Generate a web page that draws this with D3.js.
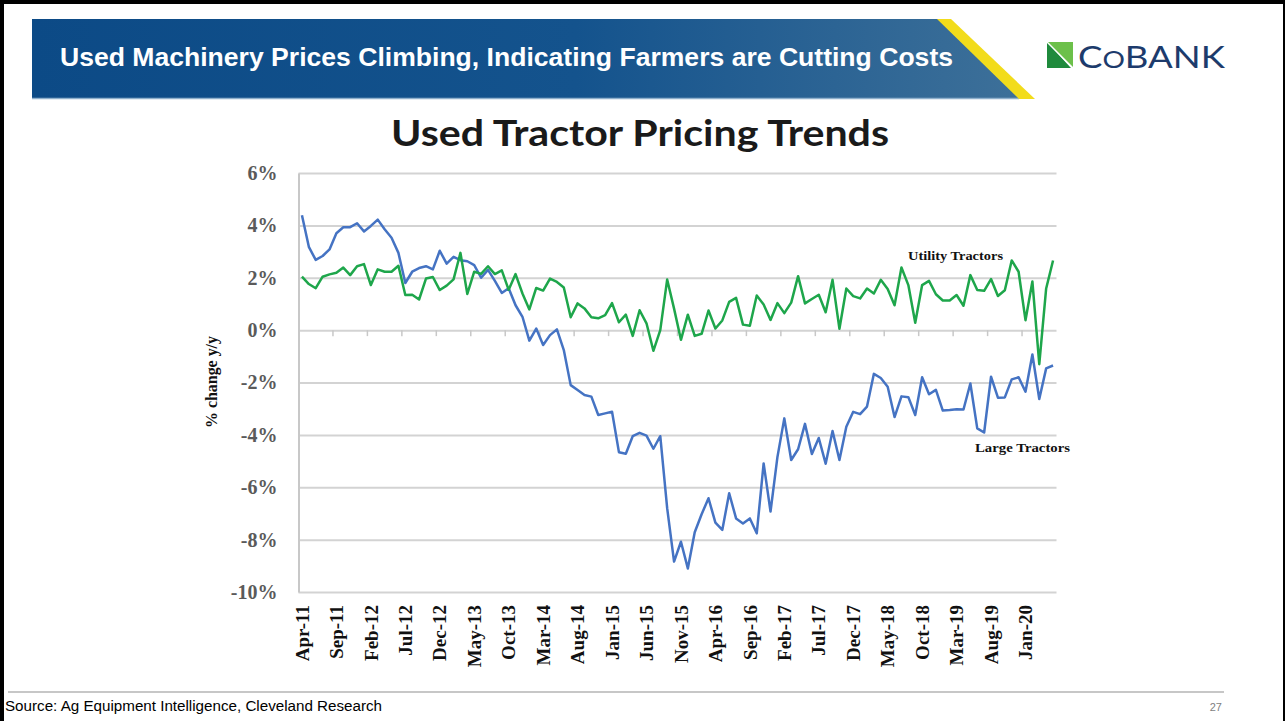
<!DOCTYPE html>
<html>
<head>
<meta charset="utf-8">
<script src="https://cdn.jsdelivr.net/npm/d3@7"></script>
<style>
  body { margin: 0; background: #fff; }
  svg { display: block; }
</style>
</head>
<body>
<script>
// monthly categories Apr-11 .. May-20
var months = d3.timeMonth.range(new Date(2011, 3, 1), new Date(2020, 5, 1)).map(d3.timeFormat("%b-%y"));

// % change y/y
var largeTractors = [
  4.39, 3.18, 2.68, 2.83, 3.08, 3.70, 3.93, 3.93, 4.08, 3.77,
  3.98, 4.22, 3.85, 3.53, 2.95, 1.80, 2.23, 2.37, 2.44, 2.32,
  3.03, 2.54, 2.80, 2.67, 2.63, 2.48, 2.00, 2.30, 1.88, 1.42,
  1.60, 0.95, 0.51, -0.40, 0.06, -0.57, -0.19, 0.03, -0.76, -2.10,
  -2.29, -2.48, -2.54, -3.24, -3.18, -3.12, -4.66, -4.72, -4.05, -3.92,
  -4.03, -4.53, -4.05, -6.80, -8.84, -8.08, -9.10, -7.72, -7.03, -6.42,
  -7.35, -7.63, -6.23, -7.19, -7.38, -7.19, -7.76, -5.09, -6.93, -4.85,
  -3.37, -4.96, -4.55, -3.58, -4.73, -4.12, -5.10, -3.85, -4.96, -3.69,
  -3.12, -3.21, -2.92, -1.67, -1.83, -2.16, -3.32, -2.53, -2.56, -3.24,
  -1.80, -2.45, -2.28, -3.07, -3.05, -3.02, -3.03, -2.04, -3.75, -3.91,
  -1.78, -2.58, -2.57, -1.88, -1.80, -2.35, -0.93, -2.63, -1.46, -1.35
];
var utilityTractors = [
  2.04, 1.76, 1.60, 2.04, 2.13, 2.19, 2.39, 2.10, 2.44, 2.52,
  1.72, 2.32, 2.23, 2.23, 2.46, 1.34, 1.35, 1.17, 1.97, 2.03,
  1.53, 1.70, 1.94, 2.95, 1.38, 2.23, 2.15, 2.44, 2.14, 2.28,
  1.54, 2.14, 1.40, 0.79, 1.61, 1.51, 1.97, 1.84, 1.63, 0.49,
  1.02, 0.83, 0.49, 0.45, 0.57, 1.03, 0.30, 0.59, -0.22, 0.76,
  0.26, -0.79, 0.00, 1.93, 0.82, -0.37, 0.59, -0.22, -0.14, 0.75,
  0.06, 0.37, 1.08, 1.23, 0.21, 0.17, 1.32, 0.98, 0.39, 1.03,
  0.65, 1.05, 2.06, 1.02, 1.19, 1.35, 0.68, 1.92, 0.05, 1.59,
  1.30, 1.21, 1.59, 1.40, 1.92, 1.57, 0.95, 2.39, 1.72, 0.28,
  1.72, 1.88, 1.37, 1.13, 1.13, 1.34, 0.93, 2.10, 1.53, 1.50,
  1.95, 1.30, 1.52, 2.66, 2.23, 0.38, 1.86, -1.30, 1.59, 2.66
];

var tickLabels = ["Apr-11", "Sep-11", "Feb-12", "Jul-12", "Dec-12", "May-13", "Oct-13", "Mar-14",
  "Aug-14", "Jan-15", "Jun-15", "Nov-15", "Apr-16", "Sep-16", "Feb-17", "Jul-17", "Dec-17",
  "May-18", "Oct-18", "Mar-19", "Aug-19", "Jan-20"];
var yTicks = [6, 4, 2, 0, -2, -4, -6, -8, -10];

var W = 1285, H = 721;
var svg = d3.select("body").append("svg").attr("width", W).attr("height", H);

// frame
svg.append("rect").attr("x", 0).attr("y", 0).attr("width", W).attr("height", 4).attr("fill", "#000");
svg.append("rect").attr("x", 0).attr("y", 0).attr("width", 4).attr("height", H).attr("fill", "#000");
svg.append("rect").attr("x", W - 2).attr("y", 0).attr("width", 2).attr("height", H).attr("fill", "#000");

// header banner
var defs = svg.append("defs");
var grad = defs.append("linearGradient").attr("id", "bannerGrad");
grad.append("stop").attr("offset", "0%").attr("stop-color", "#0c4a86");
grad.append("stop").attr("offset", "55%").attr("stop-color", "#14538d");
grad.append("stop").attr("offset", "100%").attr("stop-color", "#3d7099");

svg.append("path")
  .attr("d", "M32,19 L938,19 L1020,99 L32,99 Z")
  .attr("fill", "url(#bannerGrad)");
svg.append("line")
  .attr("x1", 32).attr("x2", 1019).attr("y1", 98.5).attr("y2", 98.5)
  .attr("stroke", "#8fb0cc").attr("stroke-width", 1.5);
svg.append("path")
  .attr("d", "M937,19 L951,19 L1035,99 L1019,99 Z")
  .attr("fill", "#f2dc1b");

svg.append("text")
  .attr("x", 60).attr("y", 66)
  .attr("textLength", 893).attr("lengthAdjust", "spacingAndGlyphs")
  .style("font-family", "'Liberation Sans', Arial, sans-serif")
  .style("font-weight", "bold").style("font-size", "25px")
  .attr("fill", "#fff")
  .text("Used Machinery Prices Climbing, Indicating Farmers are Cutting Costs");

// CoBank logo
var logo = svg.append("g").attr("transform", "translate(1047,42)");
logo.append("path").attr("d", "M0,0 L26,0 L26,26 Z").attr("fill", "#6cc04a");
logo.append("path").attr("d", "M0,0 L24,26 L0,26 Z").attr("fill", "#1f8a3c");
logo.append("path").attr("d", "M0,0 L26,26").attr("stroke", "#fff").attr("stroke-width", 1.5);
var logoText = svg.append("text")
  .attr("x", 1078).attr("y", 68)
  .attr("textLength", 147).attr("lengthAdjust", "spacingAndGlyphs")
  .style("font-family", "Lato, 'Open Sans', sans-serif")
  .style("font-size", "30px").attr("fill", "#1d3b6c");
logoText.append("tspan").text("C");
logoText.append("tspan").style("font-size", "23px").text("O");
logoText.append("tspan").text("BANK");

// chart title
svg.append("text")
  .attr("x", 640).attr("y", 146).attr("text-anchor", "middle")
  .attr("textLength", 498).attr("lengthAdjust", "spacingAndGlyphs")
  .style("font-family", "Lato, 'Open Sans', sans-serif")
  .style("font-weight", "bold").style("font-size", "36px")
  .attr("fill", "#1a1a1a")
  .text("Used Tractor Pricing Trends");

// scales
var x = d3.scaleBand().domain(months).range([298.5, 1056.5]);
var y = d3.scaleLinear().domain([-10, 6]).range([592, 173]);
var serif = "'Liberation Serif', 'Times New Roman', serif";

// grid
svg.append("g")
  .attr("transform", "translate(298.5,0)")
  .call(d3.axisLeft(y).tickValues(yTicks).tickSize(-758).tickFormat(""))
  .call(g => g.select(".domain").remove())
  .call(g => g.selectAll(".tick line").attr("stroke", "#d3d3d3").attr("stroke-width", 2));

// y axis
svg.append("g")
  .attr("transform", "translate(298.5,0)")
  .call(d3.axisLeft(y).tickValues(yTicks).tickSize(0).tickPadding(21).tickFormat(d => d + "%"))
  .call(g => g.select(".domain").attr("stroke", "#c8c8c8").attr("stroke-width", 2))
  .call(g => g.selectAll("text")
    .style("font-family", serif).style("font-weight", "bold").style("font-size", "20px")
    .attr("fill", "#5a5a5a"));

svg.append("text")
  .attr("transform", "translate(217,382) rotate(-90)")
  .attr("text-anchor", "middle")
  .attr("textLength", 92).attr("lengthAdjust", "spacingAndGlyphs")
  .style("font-family", serif).style("font-weight", "bold").style("font-size", "16px")
  .attr("fill", "#111")
  .text("% change y/y");

// tick marks on the 0% line, every 5 months at category edges
var tickMonths = months.filter((d, i) => i % 5 === 0).slice(1);
svg.append("g").selectAll("line")
  .data(tickMonths)
  .join("line")
    .attr("x1", d => x(d)).attr("x2", d => x(d))
    .attr("y1", y(0)).attr("y2", y(0) + 6)
    .attr("stroke", "#c8c8c8").attr("stroke-width", 1.5);

// x labels at the bottom
svg.append("g")
  .attr("transform", "translate(0," + y(-10) + ")")
  .call(d3.axisBottom(x).tickValues(tickLabels).tickSize(0))
  .call(g => g.select(".domain").remove())
  .call(g => g.selectAll("text")
    .attr("transform", "rotate(-90)")
    .attr("text-anchor", "end")
    .attr("x", -13).attr("y", 0).attr("dy", "0.35em")
    .style("font-family", serif).style("font-weight", "bold").style("font-size", "19px")
    .attr("fill", "#111"));

// lines
var line = d3.line()
  .x((d, i) => x(months[i]) + x.bandwidth() / 2)
  .y(d => y(d));

svg.append("path").datum(largeTractors)
  .attr("d", line).attr("fill", "none")
  .attr("stroke", "#4573c3").attr("stroke-width", 2.5).attr("stroke-linejoin", "round");
svg.append("path").datum(utilityTractors)
  .attr("d", line).attr("fill", "none")
  .attr("stroke", "#1ea64b").attr("stroke-width", 2.5).attr("stroke-linejoin", "round");

// series labels
svg.append("text")
  .attr("x", 908).attr("y", 260)
  .attr("textLength", 95).attr("lengthAdjust", "spacingAndGlyphs")
  .style("font-family", serif).style("font-weight", "bold").style("font-size", "13px")
  .attr("fill", "#111").text("Utility Tractors");
svg.append("text")
  .attr("x", 975).attr("y", 452)
  .attr("textLength", 95).attr("lengthAdjust", "spacingAndGlyphs")
  .style("font-family", serif).style("font-weight", "bold").style("font-size", "13px")
  .attr("fill", "#111").text("Large Tractors");

// footer
svg.append("line")
  .attr("x1", 8).attr("x2", 1224).attr("y1", 692).attr("y2", 692)
  .attr("stroke", "#b5b5b5").attr("stroke-width", 1.5);
svg.append("text")
  .attr("x", 5).attr("y", 711)
  .attr("textLength", 377).attr("lengthAdjust", "spacingAndGlyphs")
  .style("font-family", "'Liberation Sans', Arial, sans-serif").style("font-size", "14px")
  .attr("fill", "#000")
  .text("Source: Ag Equipment Intelligence, Cleveland Research");
svg.append("text")
  .attr("x", 1222).attr("y", 711).attr("text-anchor", "end")
  .style("font-family", "'Liberation Sans', Arial, sans-serif").style("font-size", "11px")
  .attr("fill", "#7f7f7f")
  .text("27");
</script>
</body>
</html>
